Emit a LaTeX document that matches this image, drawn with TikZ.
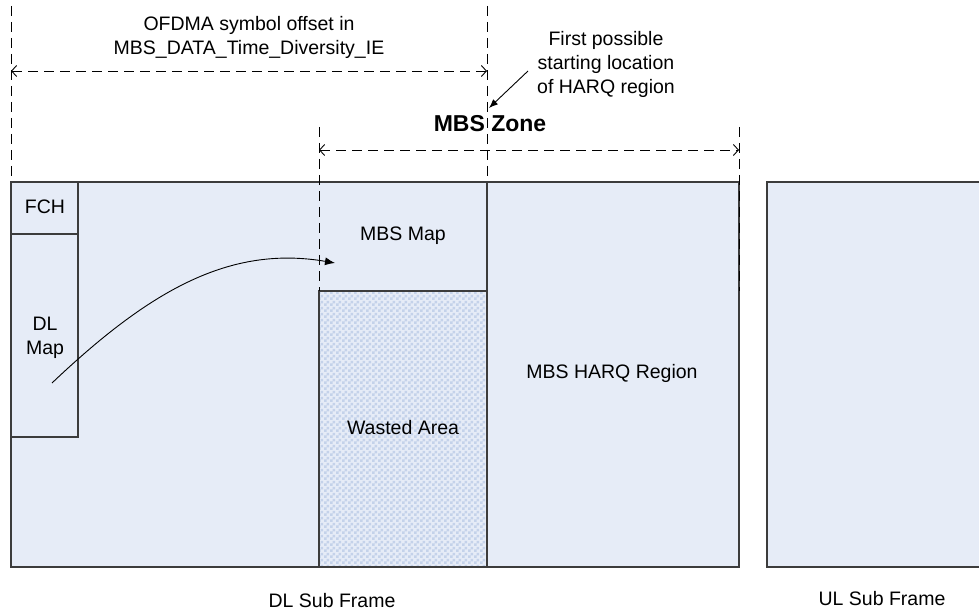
\documentclass[tikz,border=0pt]{standalone}
\usepackage{fontspec}
\setmainfont{Liberation Sans}
\usetikzlibrary{arrows.meta,patterns}
\definecolor{framefill}{HTML}{E6ECF7}
\definecolor{wastecheck}{HTML}{C4D2EA}
\definecolor{framedraw}{HTML}{3C3C3C}
\pgfdeclarepatternformonly{widechecker}{\pgfpointorigin}{\pgfqpoint{6pt}{6pt}}{\pgfqpoint{6pt}{6pt}}{
	\pgfpathrectangle{\pgfqpoint{0pt}{0pt}}{\pgfqpoint{3pt}{3pt}}
	\pgfpathrectangle{\pgfqpoint{3pt}{3pt}}{\pgfqpoint{3pt}{3pt}}
	\pgfusepath{fill}}

\begin{document}
\begin{tikzpicture}[x=1pt, y=-1pt,
		frame/.style={draw=framedraw, line width=1.2pt},
		guide/.style={dash pattern=on 10pt off 6pt, line width=0.9pt},
		span/.style={guide, {Straight Barb[length=5pt,width=11pt]}-{Straight Barb[length=5pt,width=11pt]}},
		lbl/.style={font=\fontsize{19.5}{24}\selectfont, align=center, inner sep=0pt}]
			%%%%% START %%%%%
			
			\useasboundingbox (0, 0) rectangle (979, 612);
			
			% DL and UL sub frames
			\fill[framefill] (11, 182) rectangle (739, 567);
			\draw[frame] (11, 182) rectangle (739, 567);
			\fill[framefill] (767, 182) rectangle (979, 567);
			\draw[frame] (979, 182) -- (767, 182) -- (767, 567) -- (979, 567);
			
			\draw[frame] (11, 234) -- (78, 234);
			\draw[frame] (78, 182) -- (78, 437) -- (11, 437);
			
			\fill[pattern=widechecker, pattern color=wastecheck] (319, 291) rectangle (487, 567);
			\draw[frame] (319, 291) rectangle (487, 567);
			\draw[frame] (487, 182) -- (487, 291);
			
			% guides
			\draw[guide] (11, 6) -- (11, 182);
			\draw[guide] (487, 6) -- (487, 182);
			\draw[guide] (319, 127) -- (319, 291);
			\draw[guide] (739, 127) -- (739, 291);
			
			\coordinate (offl) at (11, 71);
			\coordinate (offr) at (487, 71);
			\draw[span] (offl) -- (offr);
			
			\coordinate (zonel) at (319, 150);
			\coordinate (zoner) at (739, 150);
			\draw[span] (zonel) -- (zoner);
			
			% labels
			\node[lbl] (offset) at (249, 37) {OFDMA symbol offset in\\MBS\_DATA\_Time\_Diversity\_IE};
			\node[lbl] (first) at (606, 64) {First possible\\starting location\\of HARQ region};
			\node[font=\bfseries\fontsize{23}{28}\selectfont, inner sep=0pt] (zone) at (490, 124) {MBS Zone};
			
			\node[lbl] (fch) at (45, 207) {FCH};
			\node[lbl] (dlmap) at (45, 338) {DL\\Map};
			\node[lbl] (mbsmap) at (403, 236) {MBS Map};
			\node[lbl] (wasted) at (403, 428) {Wasted Area};
			\node[lbl] (harq) at (612, 373) {MBS HARQ Region};
			
			\node[lbl] (dlsub) at (332, 601) {DL Sub Frame};
			\node[lbl] (ulsub) at (882, 599) {UL Sub Frame};
			
			% arrows
			\coordinate (harqtail) at (528, 71);
			\coordinate (harqtip) at (489, 108);
			\draw[line width=0.9pt, -{Latex[length=9pt,width=7pt]}] (harqtail) -- (harqtip);
			
			\coordinate (dlsrc) at (52, 383);
			\coordinate (mbsdst) at (335, 263);
			\draw[line width=0.9pt, -{Latex[length=10pt,width=8pt]}] (dlsrc) .. controls (150, 290) and (230, 245) .. (mbsdst);
			
			%%%%% END %%%%%
\end{tikzpicture}
\end{document}
